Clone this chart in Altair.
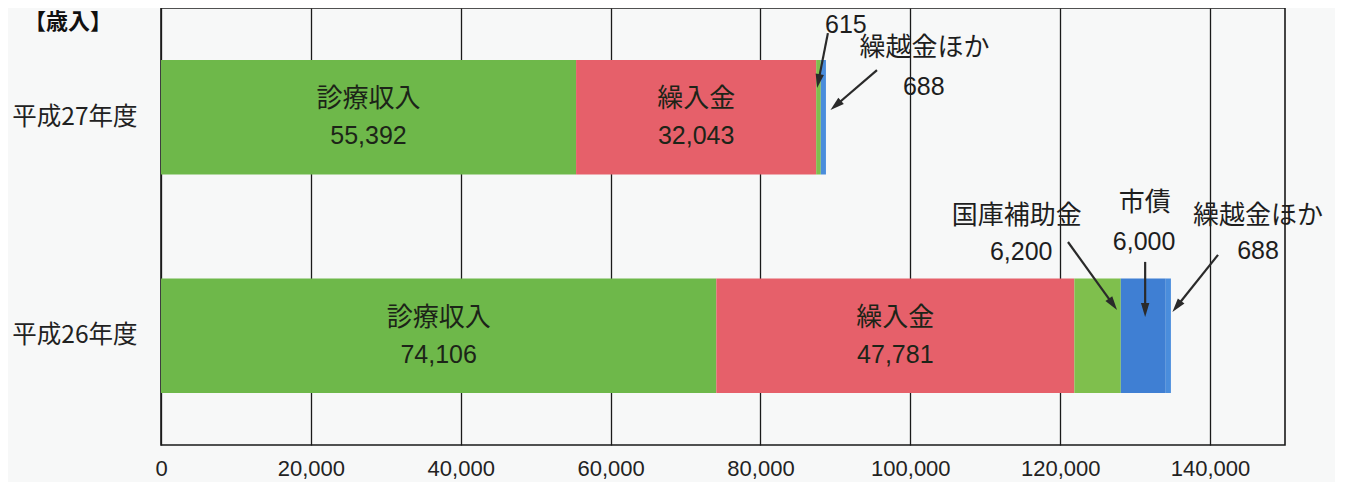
import math
import altair as alt
import pandas as pd

# ---------------- data ----------------
categories = ["平成27年度", "平成26年度"]
segments = ["診療収入", "繰入金", "国庫補助金", "市債", "繰越金ほか"]
values_h27 = [55392, 32043, 615, 0, 688]
values_h26 = [74106, 47781, 6200, 6000, 688]
x_ticks = [0, 20000, 40000, 60000, 80000, 100000, 120000, 140000]
inside_segments = ["診療収入", "繰入金"]
title_text = "【歳入】"

colors = ["#6eb84a", "#e6606a", "#7fbf4d", "#3f7fd3", "#4a8ddc"]

# ---------------- layout ----------------
W, H = 1124, 437
XMAX = 150000
YMAX = 2.0
SX = W / XMAX
SY = H / YMAX
ypos = {categories[0]: 1.5, categories[1]: 0.5}
HALF = 0.262

FONT_JP = "Noto Sans CJK JP"
FONT_NUM = "Liberation Sans"

rows = []
for cat, vals in zip(categories, [values_h27, values_h26]):
    start = 0
    for seg, v in zip(segments, vals):
        if v > 0:
            rows.append(dict(cat=cat, seg=seg, start=start, end=start + v,
                             y1=ypos[cat] - HALF, y2=ypos[cat] + HALF,
                             mid=start + v / 2, yc=ypos[cat], val=f"{v:,}"))
        start += v
bars = pd.DataFrame(rows)
inside = bars[bars.seg.isin(inside_segments)]

x_scale = alt.Scale(domain=[0, XMAX], nice=False, zero=True)
y_scale = alt.Scale(domain=[0, YMAX], nice=False, zero=True)

label_expr = f"datum.value > 1 ? '{categories[0]}' : '{categories[1]}'"

bar_layer = alt.Chart(bars).mark_bar(opacity=1).encode(
    x=alt.X("start:Q", scale=x_scale,
            axis=alt.Axis(values=x_ticks, format=",d", title=None, grid=True,
                          gridColor="#1a1a1a", gridWidth=1.3, gridOpacity=1,
                          ticks=False, domain=False, labelFontSize=22,
                          labelFont=FONT_NUM, labelColor="#222",
                          labelPadding=13, labelFlush=False)),
    x2="end:Q",
    y=alt.Y("y1:Q", scale=y_scale,
            axis=alt.Axis(values=[0.5, 1.5], labelExpr=label_expr, title=None,
                          grid=False, ticks=False, domain=False,
                          labelFontSize=24.5, labelFont=FONT_JP,
                          labelColor="#222", labelPadding=24)),
    y2="y2:Q",
    color=alt.Color("seg:N", scale=alt.Scale(domain=segments, range=colors),
                    legend=None),
)

name_layer = alt.Chart(inside).mark_text(
    font=FONT_JP, fontSize=26, color="#1c2418", dy=-18, baseline="middle"
).encode(x=alt.X("mid:Q", scale=x_scale), y=alt.Y("yc:Q", scale=y_scale),
         text="seg:N")

val_layer = alt.Chart(inside).mark_text(
    font=FONT_NUM, fontSize=25, color="#1c2418", dy=19, baseline="middle"
).encode(x=alt.X("mid:Q", scale=x_scale), y=alt.Y("yc:Q", scale=y_scale),
         text="val:N")

# ---------------- annotations ----------------
def seg_info(cat, seg):
    return bars[(bars.cat == cat) & (bars.seg == seg)].iloc[0]

a_27_kokko = seg_info(categories[0], "国庫補助金")
a_27_kuri = seg_info(categories[0], "繰越金ほか")
a_26_kokko = seg_info(categories[1], "国庫補助金")
a_26_shi = seg_info(categories[1], "市債")
a_26_kuri = seg_info(categories[1], "繰越金ほか")

ann_text = pd.DataFrame([
    dict(x=91400, y=1.922, t=a_27_kokko.val, f=FONT_NUM, s=25),
    dict(x=101900, y=1.815, t="繰越金ほか", f=FONT_JP, s=26),
    dict(x=101800, y=1.640, t=a_27_kuri.val, f=FONT_NUM, s=25),
    dict(x=114200, y=1.048, t="国庫補助金", f=FONT_JP, s=26),
    dict(x=114800, y=0.883, t=a_26_kokko.val, f=FONT_NUM, s=25),
    dict(x=131300, y=1.108, t="市債", f=FONT_JP, s=26),
    dict(x=131200, y=0.929, t=a_26_shi.val, f=FONT_NUM, s=25),
    dict(x=146400, y=1.048, t="繰越金ほか", f=FONT_JP, s=26),
    dict(x=146400, y=0.888, t=a_26_kuri.val, f=FONT_NUM, s=25),
])

arrows_raw = [
    # tail x, tail y, tip x, tip y
    (89000, 1.885, a_27_kokko.start + 120, 1.634),
    (95550, 1.716, a_27_kuri.end + 600, 1.533),
    (121040, 0.929, a_26_kokko.mid + 2600, 0.618),
    (a_26_shi.mid + 250, 0.838, a_26_shi.mid + 250, 0.586),
    (141060, 0.870, a_26_kuri.end + 200, 0.609),
]
HEAD = 7.0
arrow_rows = []
for tx, ty, hx, hy in arrows_raw:
    dxp = (hx - tx) * SX
    dyp = -(hy - ty) * SY
    L = math.hypot(dxp, dyp)
    ux, uy = dxp / L, dyp / L
    cx = hx - ux * HEAD / SX
    cy = hy + uy * HEAD / SY
    ang = math.degrees(math.atan2(dxp, -dyp)) % 360
    arrow_rows.append(dict(tx=tx, ty=ty, cx=cx, cy=cy, ang=ang))
arrows = pd.DataFrame(arrow_rows)

text_layers = []
for (f, s), grp in ann_text.groupby(["f", "s"]):
    text_layers.append(
        alt.Chart(grp).mark_text(font=f, fontSize=int(s), color="#1e1e1e",
                                 baseline="middle", align="center").encode(
            x=alt.X("x:Q", scale=x_scale), y=alt.Y("y:Q", scale=y_scale),
            text="t:N")
    )

arrow_lines = alt.Chart(arrows).mark_rule(color="#2a2a2a", strokeWidth=2.2).encode(
    x=alt.X("tx:Q", scale=x_scale), y=alt.Y("ty:Q", scale=y_scale),
    x2="cx:Q", y2="cy:Q")

arrow_heads = alt.Chart(arrows).mark_point(
    shape="M0,-1L0.6,1L-0.6,1Z", filled=True, size=196, color="#2a2a2a",
    opacity=1, strokeWidth=0
).encode(x=alt.X("cx:Q", scale=x_scale), y=alt.Y("cy:Q", scale=y_scale),
         angle=alt.Angle("ang:Q", scale=None))

title_layer = alt.Chart(pd.DataFrame({"t": [title_text]})).mark_text(
    font=FONT_JP, fontSize=22, fontWeight="bold", color="#111",
    align="left", baseline="top"
).encode(x=alt.value(-137), y=alt.value(4), text="t:N")

chart = alt.layer(bar_layer, name_layer, val_layer, *text_layers,
                  arrow_lines, arrow_heads, title_layer).properties(
    width=W, height=H,
    autosize=alt.AutoSizeParams(type="none"),
    padding={"left": 153, "top": 0, "right": 50, "bottom": 37},
    background="#f7f8f8",
).configure_view(stroke="#1a1a1a", strokeWidth=1.6)

chart.save("out.html", embed_options={"renderer": "svg", "actions": False})
